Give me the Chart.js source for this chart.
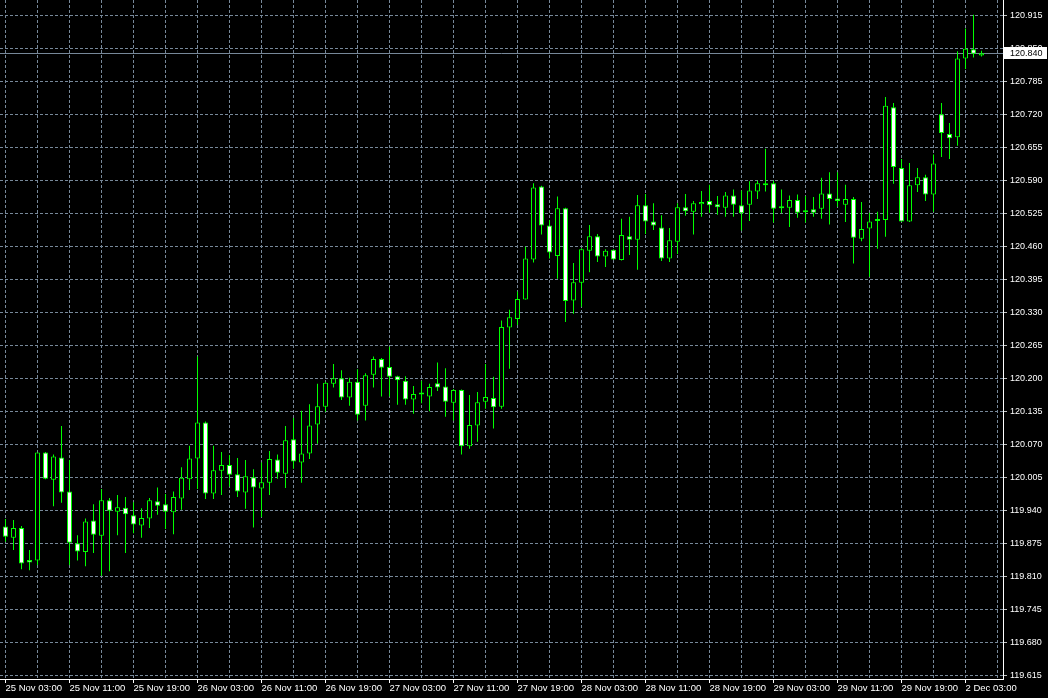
<!DOCTYPE html>
<html>
<head>
<meta charset="utf-8">
<script src="https://cdn.jsdelivr.net/npm/chart.js@4.4.1/dist/chart.umd.min.js"></script>
<style>
  html, body { margin: 0; padding: 0; background: #000; }
  #wrap { width: 1048px; height: 698px; }
</style>
</head>
<body>
<div id="wrap"><canvas id="priceChart" width="1048" height="698"></canvas></div>
<script>
// hourly bars, 25 Nov 03:00 .. 2 Dec 05:00
const opens = [
  119.908, 119.886, 119.905, 119.842, 119.841, 120.054, 120.000, 120.044, 119.977, 119.875,
  119.858, 119.920, 119.890, 119.960, 119.937, 119.945, 119.930, 119.910, 119.924, 119.958,
  119.952, 119.936, 119.963, 120.001, 120.042, 120.113, 119.973, 120.018, 120.029, 120.011,
  119.975, 120.005, 119.983, 119.994, 120.040, 120.012, 120.080, 120.034, 120.052, 120.109,
  120.144, 120.189, 120.200, 120.162, 120.193, 120.146, 120.207, 120.238, 120.222, 120.204,
  120.195, 120.158, 120.168, 120.164, 120.190, 120.184, 120.152, 120.177, 120.066, 120.107,
  120.154, 120.161, 120.144, 120.300, 120.317, 120.355, 120.434, 120.578, 120.501, 120.441,
  120.535, 120.353, 120.388, 120.451, 120.480, 120.440, 120.453, 120.433, 120.480, 120.473,
  120.541, 120.509, 120.497, 120.436, 120.469, 120.537, 120.528, 120.543, 120.549, 120.543,
  120.536, 120.560, 120.541, 120.542, 120.568, 120.580, 120.584, 120.535, 120.536, 120.551,
  120.527, 120.533, 120.534, 120.564, 120.554, 120.542, 120.553, 120.475, 120.495, 120.510,
  120.512, 120.734, 120.614, 120.509, 120.580, 120.596, 120.562, 120.720, 120.681, 120.675,
  120.830, 120.848, 120.836
];
const highs = [
  119.923, 119.921, 119.909, 119.862, 120.054, 120.055, 120.050, 120.106, 120.039, 119.891,
  119.924, 119.952, 119.982, 119.964, 119.970, 119.966, 119.956, 119.944, 119.964, 119.985,
  119.972, 119.977, 120.025, 120.067, 120.243, 120.115, 120.067, 120.055, 120.049, 120.043,
  120.039, 120.021, 120.034, 120.057, 120.050, 120.106, 120.122, 120.136, 120.149, 120.189,
  120.193, 120.228, 120.216, 120.201, 120.218, 120.210, 120.243, 120.240, 120.262, 120.205,
  120.204, 120.185, 120.195, 120.189, 120.231, 120.220, 120.179, 120.178, 120.167, 120.173,
  120.228, 120.203, 120.314, 120.335, 120.371, 120.459, 120.584, 120.579, 120.512, 120.558,
  120.536, 120.427, 120.456, 120.502, 120.484, 120.454, 120.454, 120.514, 120.518, 120.561,
  120.563, 120.545, 120.521, 120.496, 120.545, 120.563, 120.549, 120.569, 120.581, 120.559,
  120.567, 120.572, 120.570, 120.588, 120.589, 120.652, 120.589, 120.572, 120.560, 120.562,
  120.559, 120.557, 120.595, 120.606, 120.606, 120.581, 120.557, 120.547, 120.526, 120.528,
  120.754, 120.742, 120.632, 120.624, 120.614, 120.601, 120.641, 120.742, 120.703, 120.844,
  120.889, 120.916, 120.845
];
const lows = [
  119.878, 119.862, 119.824, 119.822, 119.832, 120.001, 119.948, 119.955, 119.832, 119.841,
  119.830, 119.856, 119.811, 119.820, 119.891, 119.856, 119.895, 119.886, 119.905, 119.931,
  119.903, 119.893, 119.941, 119.980, 119.982, 119.962, 119.962, 119.970, 119.987, 119.966,
  119.943, 119.906, 119.927, 119.970, 120.002, 119.984, 120.022, 119.994, 120.041, 120.071,
  120.134, 120.182, 120.157, 120.146, 120.117, 120.117, 120.182, 120.164, 120.164, 120.148,
  120.148, 120.130, 120.151, 120.135, 120.175, 120.124, 120.117, 120.050, 120.061, 120.075,
  120.140, 120.101, 120.140, 120.219, 120.305, 120.355, 120.428, 120.483, 120.436, 120.396,
  120.311, 120.327, 120.341, 120.409, 120.429, 120.419, 120.433, 120.432, 120.443, 120.414,
  120.484, 120.492, 120.431, 120.429, 120.445, 120.520, 120.483, 120.518, 120.526, 120.522,
  120.518, 120.518, 120.491, 120.510, 120.553, 120.568, 120.507, 120.525, 120.498, 120.516,
  120.507, 120.518, 120.514, 120.503, 120.538, 120.508, 120.426, 120.470, 120.400, 120.455,
  120.479, 120.583, 120.508, 120.508, 120.567, 120.549, 120.528, 120.636, 120.632, 120.658,
  120.809, 120.832, 120.834
];
const closes = [
  119.888, 119.905, 119.835, 119.837, 120.054, 120.002, 120.046, 119.975, 119.876, 119.859,
  119.918, 119.892, 119.960, 119.939, 119.946, 119.932, 119.912, 119.925, 119.960, 119.949,
  119.937, 119.966, 120.004, 120.042, 120.113, 119.973, 120.019, 120.029, 120.010, 119.977,
  120.007, 119.985, 119.995, 120.041, 120.014, 120.078, 120.036, 120.052, 120.107, 120.145,
  120.191, 120.200, 120.162, 120.193, 120.128, 120.206, 120.238, 120.221, 120.203, 120.196,
  120.158, 120.169, 120.168, 120.183, 120.182, 120.154, 120.177, 120.066, 120.108, 120.153,
  120.163, 120.143, 120.301, 120.320, 120.356, 120.436, 120.576, 120.501, 120.448, 120.535,
  120.352, 120.389, 120.454, 120.480, 120.440, 120.451, 120.434, 120.482, 120.473, 120.541,
  120.509, 120.501, 120.436, 120.472, 120.537, 120.529, 120.545, 120.547, 120.541, 120.537,
  120.560, 120.542, 120.525, 120.570, 120.584, 120.582, 120.534, 120.536, 120.551, 120.526,
  120.527, 120.526, 120.564, 120.553, 120.549, 120.553, 120.477, 120.494, 120.509, 120.513,
  120.737, 120.616, 120.509, 120.580, 120.596, 120.562, 120.623, 120.683, 120.673, 120.830,
  120.849, 120.839, 120.840
];

// one label every 8 bars
const timeLabels = [
  '25 Nov 03:00', '25 Nov 11:00', '25 Nov 19:00', '26 Nov 03:00', '26 Nov 11:00', '26 Nov 19:00',
  '27 Nov 03:00', '27 Nov 11:00', '27 Nov 19:00', '28 Nov 03:00', '28 Nov 11:00', '28 Nov 19:00',
  '29 Nov 03:00', '29 Nov 11:00', '29 Nov 19:00', '2 Dec 03:00'
];
const priceLabels = [
  '119.615', '119.680', '119.745', '119.810', '119.875', '119.940', '120.005',
  '120.070', '120.135', '120.200', '120.265', '120.330', '120.395', '120.460',
  '120.525', '120.590', '120.655', '120.720', '120.785', '120.850', '120.915'
];

const GRID = '#778899';
const CANDLE = '#00ff00';

const wicks = opens.map((o, i) => ({ x: i, y: [lows[i], highs[i]] }));
const bodies = opens.map((o, i) => ({ x: i, y: [Math.min(o, closes[i]), Math.max(o, closes[i])] }));
const bodyFill = opens.map((o, i) => closes[i] >= o ? '#000000' : '#ffffff');

Chart.defaults.font.family = "'Liberation Sans', Arial, sans-serif";
Chart.defaults.color = '#ffffff';

// current price line + white price box
const priceLine = {
    id: 'priceLine',
    beforeDatasetsDraw(chart) {
        const { ctx, chartArea } = chart;
        const y = Math.round(chart.scales.y.getPixelForValue(closes[closes.length - 1])) + 0.5;
        ctx.save();
        ctx.strokeStyle = GRID;
        ctx.lineWidth = 1;
        ctx.beginPath();
        ctx.moveTo(chartArea.left, y);
        ctx.lineTo(chartArea.right, y);
        ctx.stroke();
        ctx.restore();
    },
    afterDraw(chart) {
        const { ctx, chartArea } = chart;
        const last = closes[closes.length - 1];
        const y = Math.round(chart.scales.y.getPixelForValue(last));
        ctx.save();
        ctx.fillStyle = '#ffffff';
        ctx.fillRect(chartArea.right + 1, y - 6, 43, 12);
        ctx.fillStyle = '#000000';
        ctx.font = "9px 'Liberation Sans', Arial, sans-serif";
        ctx.textBaseline = 'middle';
        ctx.fillText(last.toFixed(3), chartArea.right + 7, y + 0.5);
        ctx.restore();
    }
};

const ctx = document.getElementById('priceChart').getContext('2d');
const priceChart = new Chart(ctx, {
    type: 'bar',
    data: {
        datasets: [{
            // bodies first so they are painted over the wicks
            data: bodies,
            backgroundColor: bodyFill,
            borderColor: CANDLE,
            borderWidth: 1,
            borderSkipped: false,
            minBarLength: 2,
            grouped: false,
            maxBarThickness: 5
        }, {
            data: wicks,
            backgroundColor: CANDLE,
            borderWidth: 0,
            grouped: false,
            maxBarThickness: 1
        }]
    },
    options: {
        responsive: false,
        animation: false,
        layout: { padding: 0 },
        plugins: {
            legend: { display: false },
            tooltip: { enabled: false }
        },
        scales: {
            x: {
                type: 'linear',
                offset: false,
                min: -0.6875,
                max: 124.6875,
                afterBuildTicks: scale => {
                    const t = [];
                    for (let v = 0; v <= 124; v += 4) t.push({ value: v });
                    scale.ticks = t;
                },
                afterFit: scale => {
                    scale.height = 19;
                    scale.paddingLeft = 0;
                    scale.paddingRight = 0;
                },
                grid: {
                    offset: false,
                    color: GRID,
                    tickLength: 4,
                    tickColor: c => (c.tick && c.tick.value % 8 === 0) ? '#ffffff' : 'rgba(0,0,0,0)'
                },
                border: { color: '#ffffff', width: 1, dash: [3, 2] },
                ticks: {
                    autoSkip: false,
                    maxRotation: 0,
                    minRotation: 0,
                    align: 'start',
                    padding: 0,
                    color: '#ffffff',
                    font: { size: 9.5 },
                    callback: v => v % 8 === 0 ? (timeLabels[v / 8] || '') : ''
                }
            },
            y: {
                position: 'right',
                beginAtZero: false,
                min: 119.6077,
                max: 120.9451,
                afterBuildTicks: scale => {
                    scale.ticks = priceLabels.map(s => ({ value: parseFloat(s) }));
                },
                afterFit: scale => {
                    scale.width = 45;
                    scale.paddingTop = 0;
                    scale.paddingBottom = 0;
                },
                grid: {
                    color: GRID,
                    tickLength: 4,
                    tickColor: '#c0c0c0'
                },
                border: { color: '#ffffff', width: 1, dash: [3, 2] },
                ticks: {
                    autoSkip: false,
                    padding: 3,
                    color: '#ffffff',
                    font: { size: 9 },
                    callback: v => v.toFixed(3)
                }
            }
        }
    },
    plugins: [priceLine]
});
</script>
</body>
</html>
